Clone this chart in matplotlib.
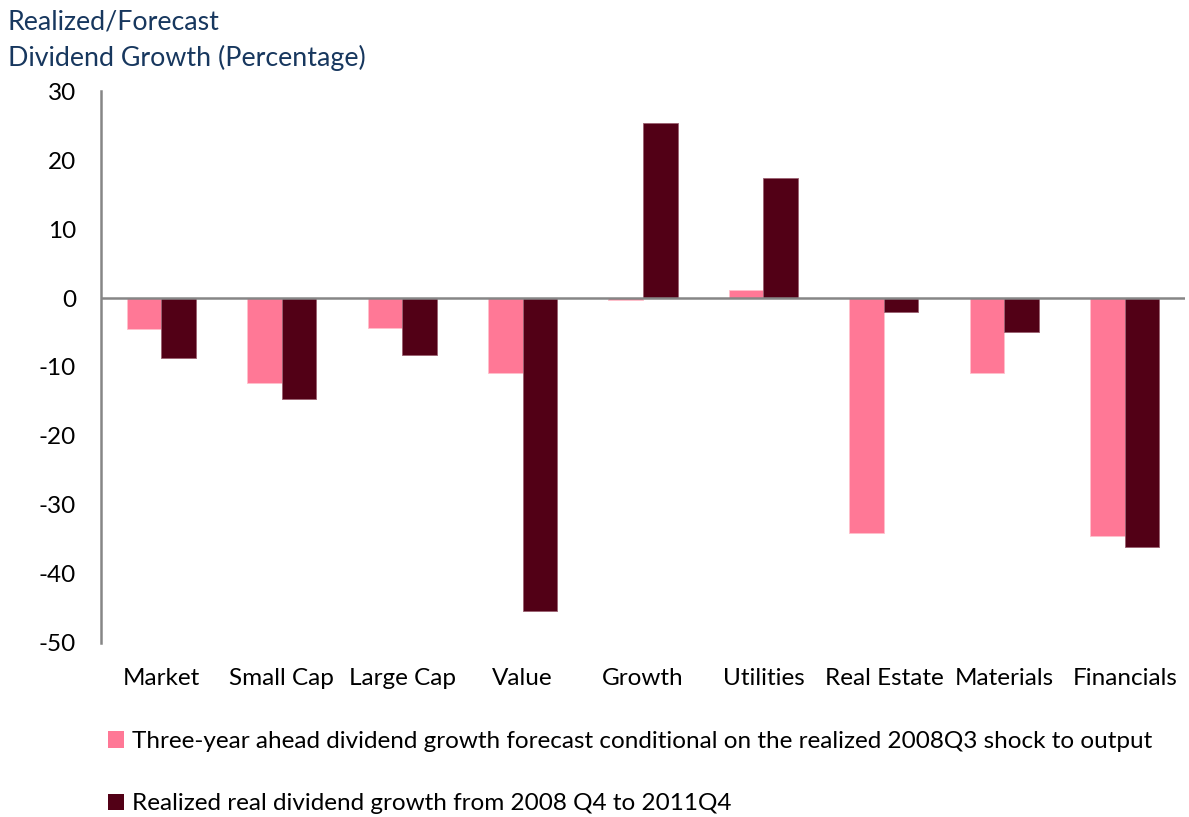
import numpy as np
import matplotlib.pyplot as plt
from matplotlib.patches import Patch

plt.rcParams['font.family'] = ['Lato', 'DejaVu Sans']

categories = ['Market', 'Small Cap', 'Large Cap', 'Value', 'Growth',
              'Utilities', 'Real Estate', 'Materials', 'Financials']
forecast = [-4.5, -12.3, -4.3, -10.9, -0.25, 1.1, -34.1, -10.9, -34.5]
realized = [-8.7, -14.6, -8.3, -45.3, 25.4, 17.4, -2.1, -5.0, -36.1]
yticks = [30, 20, 10, 0, -10, -20, -30, -40, -50]

label_forecast = 'Three-year ahead dividend growth forecast conditional on the realized 2008Q3 shock to output'
label_realized = 'Realized real dividend growth from 2008 Q4 to 2011Q4'

pink = '#FF7896'
maroon = '#520016'
navy = '#17375E'

fig = plt.figure(figsize=(11.89, 8.17), dpi=100)
ax = fig.add_axes([0.085, 0.213, 0.9116, 0.6756])

x = np.arange(len(categories))
w = 0.287
ax.bar(x - w / 2, forecast, w, color=pink, edgecolor='#FFC0CC', linewidth=0.6)
ax.bar(x + w / 2, realized, w, color=maroon, edgecolor='#9A6070', linewidth=0.6)

ax.set_xlim(-0.5, len(categories) - 0.5)
ax.set_ylim(-50, 30)
ax.axhline(0, color='#868686', linewidth=1.8, zorder=3)

for s in ['top', 'right', 'bottom']:
    ax.spines[s].set_visible(False)
ax.spines['left'].set_color('#868686')
ax.spines['left'].set_linewidth(1.8)

ax.set_yticks(yticks)
ax.set_yticklabels([str(v) for v in yticks], fontsize=17.5)
ax.set_xticks(x)
ax.set_xticklabels(categories, fontsize=17.5)
ax.tick_params(axis='y', length=0, pad=18)
ax.tick_params(axis='x', length=0, pad=18)

fig.text(8 / 1189, 1 - 22 / 817, 'Realized/Forecast', fontsize=19.3, color=navy,
         va='center', ha='left')
fig.text(8 / 1189, 1 - 58 / 817, 'Dividend Growth (Percentage)', fontsize=19.3,
         color=navy, va='center', ha='left')

handles = [Patch(facecolor=pink, edgecolor='none'), Patch(facecolor=maroon, edgecolor='none')]
fig.legend(handles, [label_forecast, label_realized], loc='upper left',
           bbox_to_anchor=(108 / 1189, 1 - 731 / 817), frameon=False,
           fontsize=17.5, handlelength=0.65, handleheight=0.65, handletextpad=0.35,
           labelspacing=1.7, borderaxespad=0, borderpad=0)

fig.savefig('out.png', dpi=100)
